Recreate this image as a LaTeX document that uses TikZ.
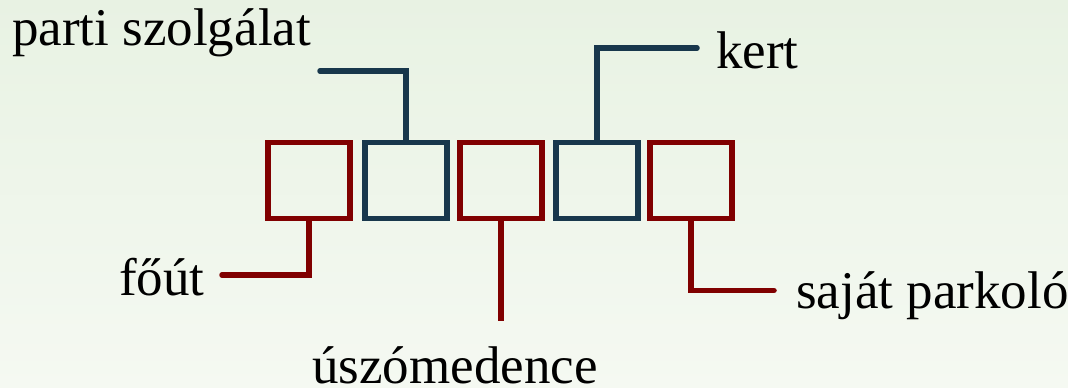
\documentclass[tikz,border=0pt]{standalone}
\usepackage{fontspec}
\setmainfont{Liberation Serif}
\definecolor{lotred}{RGB}{128,0,0}
\definecolor{lotblue}{RGB}{24,55,76}
\definecolor{bgtop}{RGB}{232,242,227}
\definecolor{bgbot}{RGB}{245,249,242}
\begin{document}
\begin{tikzpicture}[x=1pt,y=-1pt,
  lot/.style={draw, line width=5.7pt, minimum width=82pt, minimum height=76pt, inner sep=0pt},
  redlot/.style={lot, draw=lotred},
  bluelot/.style={lot, draw=lotblue},
  link/.style={line width=5.5pt, line cap=round, line join=miter},
  label/.style={inner sep=0pt, anchor=base west, font=\fontsize{53}{60}\selectfont}]
  % background
  \shade[top color=bgtop, bottom color=bgbot] (0,0) rectangle (1068,388);
  \useasboundingbox (0,0) rectangle (1068,388);

  % plots
  \node[redlot]  (b1) at (309,180.5) {};
  \node[bluelot] (b2) at (406,180.5) {};
  \node[redlot]  (b3) at (501,180.5) {};
  \node[bluelot] (b4) at (597,180.5) {};
  \node[redlot]  (b5) at (691,180.5) {};

  % labels
  \node[label] (t1) at (12,45) {parti szolgálat};
  \node[label] (t2) at (716,68) {kert};
  \node[label] (t3) at (119,295) {főút};
  \node[label] (t4) at (312,383) {úszómedence};
  \node[label] (t5) at (796,308) {saját parkoló};

  % leader line ends
  \coordinate (e1) at (320,71);
  \coordinate (e2) at (697,48);
  \coordinate (e3) at (222,275);
  \coordinate (e4) at (501,321);
  \coordinate (e5) at (774,290.5);

  % leader lines
  \draw[link, draw=lotblue] (b2.north) |- (e1);
  \draw[link, draw=lotblue] (b4.north) |- (e2);
  \draw[link, draw=lotred] (b1.south) |- (e3);
  \draw[line width=5.5pt, draw=lotred] (b3.south) -- (e4);
  \draw[link, draw=lotred] (b5.south) |- (e5);
\end{tikzpicture}
\end{document}
